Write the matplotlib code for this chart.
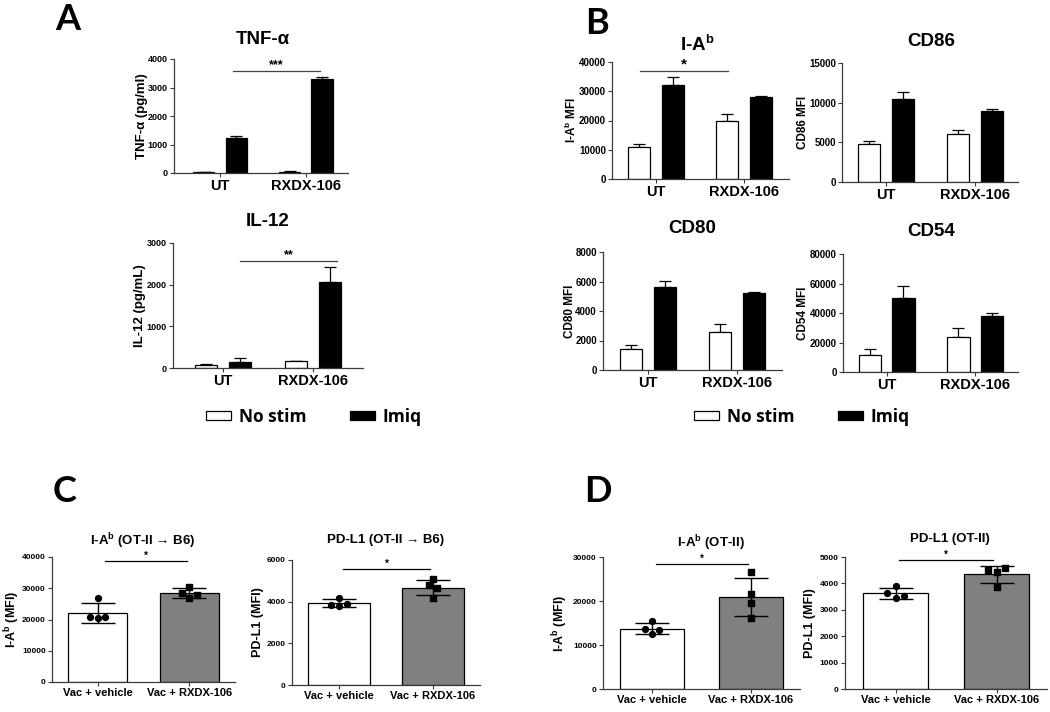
import numpy as np
import matplotlib
matplotlib.use("Agg")
import matplotlib.pyplot as plt
from matplotlib.patches import Patch

plt.rcParams['font.family'] = ['Liberation Sans', 'DejaVu Sans']
plt.rcParams['font.weight'] = 'bold'
plt.rcParams['mathtext.fontset'] = 'custom'
plt.rcParams['mathtext.rm'] = 'Liberation Sans:bold'
plt.rcParams['mathtext.it'] = 'Liberation Sans:bold'
plt.rcParams['mathtext.bf'] = 'Liberation Sans:bold'

# ---------------- data ----------------
groups = ['UT', 'RXDX-106']
legend_labels = ['No stim', 'Imiq']

tnf_nostim = [30, 50]
tnf_nostim_err = [15, 20]
tnf_imiq = [1220, 3290]
tnf_imiq_err = [70, 70]

il12_nostim = [80, 160]
il12_nostim_err = [15, 10]
il12_imiq = [150, 2060]
il12_imiq_err = [80, 370]

iab_nostim = [11000, 20000]
iab_nostim_err = [1000, 2200]
iab_imiq = [32000, 28000]
iab_imiq_err = [3000, 400]

cd86_nostim = [4800, 6100]
cd86_nostim_err = [350, 500]
cd86_imiq = [10400, 9000]
cd86_imiq_err = [950, 150]

cd80_nostim = [1400, 2600]
cd80_nostim_err = [300, 500]
cd80_imiq = [5600, 5200]
cd80_imiq_err = [450, 100]

cd54_nostim = [11500, 23500]
cd54_nostim_err = [4000, 6000]
cd54_imiq = [50000, 38000]
cd54_imiq_err = [8000, 2000]

treatments = ['Vac + vehicle', 'Vac + RXDX-106']
c_iab_vehicle = [27000, 20800, 20400, 20700]
c_iab_rxdx = [30500, 28500, 27000, 28000]
c_pdl1_vehicle = [4200, 3850, 3800, 3870]
c_pdl1_rxdx = [5070, 4800, 4650, 4180]
d_iab_vehicle = [15400, 13700, 13500, 12400]
d_iab_rxdx = [26500, 21600, 19600, 16100]
d_pdl1_vehicle = [3920, 3620, 3460, 3520]
d_pdl1_rxdx = [4500, 4600, 4420, 3880]

# ---------------- layout ----------------
W, H = 1050, 712
fig = plt.figure(figsize=(W / 100, H / 100), dpi=100)
SPINE = '#3a3a3a'


def add_ax(l, t, r, b):
    ax = fig.add_axes([l / W, 1 - b / H, (r - l) / W, (b - t) / H])
    ax._px = (l, r)
    return ax


def place_ylabel(ax, px):
    l, r = ax._px
    ax.yaxis.set_label_coords((px - l) / (r - l), 0.5)


def style(ax, ymax, step, tick_fs):
    for s in ['top', 'right']:
        ax.spines[s].set_visible(False)
    for s in ['left', 'bottom']:
        ax.spines[s].set_color(SPINE)
        ax.spines[s].set_linewidth(0.9)
    ax.set_ylim(0, ymax)
    ax.set_yticks(np.arange(0, ymax + 1, step))
    ax.tick_params(axis='both', length=3, width=0.8, color=SPINE, pad=1.5)
    ax.tick_params(axis='y', labelsize=tick_fs)
    for lab in ax.get_yticklabels():
        lab.set_fontweight('bold')


def grouped(ax, nostim, nostim_err, imiq, imiq_err, ymax, step, ylabel, yfs, xlim, ylx, tfs=7):
    x = np.arange(len(groups))
    off, w = 0.19, 0.25
    ax.bar(x - off, nostim, w, color='white', edgecolor='black', linewidth=0.9, zorder=2)
    ax.bar(x + off, imiq, w, color='black', edgecolor='black', linewidth=0.9, zorder=2)
    z = np.zeros(len(x))
    ax.errorbar(x - off, nostim, yerr=[z, nostim_err], fmt='none', ecolor='black',
                elinewidth=0.9, capsize=4, capthick=0.9, zorder=1)
    ax.errorbar(x + off, imiq, yerr=[z, imiq_err], fmt='none', ecolor='black',
                elinewidth=0.9, capsize=4, capthick=0.9, zorder=1)
    ax.set_xticks(x)
    ax.set_xticklabels(groups, fontsize=10.5, fontweight='bold')
    ax.set_xlim(*xlim)
    style(ax, ymax, step, tfs)
    ax.set_ylabel(ylabel, fontsize=yfs, fontweight='bold', va='center')
    place_ylabel(ax, ylx)


def sig(ax, x0, x1, y, stars, color='#444444', fs=9):
    ax.plot([x0, x1], [y, y], color=color, lw=0.9, zorder=3, clip_on=False)
    ax.text((x0 + x1) / 2, y, stars, ha='center', va='bottom', fontsize=fs, fontweight='bold')


def scatter_bar(ax, vehicle, rxdx, jit_v, jit_r, ymax, step, ylabel, ylx):
    data = [np.array(vehicle, float), np.array(rxdx, float)]
    means = [d.mean() for d in data]
    sds = [d.std(ddof=1) for d in data]
    ax.bar([0, 1], means, 0.65, color=['white', '#808080'], edgecolor='black',
           linewidth=0.9, zorder=2)
    ax.errorbar([0, 1], means, yerr=sds, fmt='none', ecolor='black', elinewidth=1,
                capsize=12, capthick=1, zorder=3)
    ax.scatter(0 + np.array(jit_v), data[0], marker='o', s=18, color='black', zorder=4)
    ax.scatter(1 + np.array(jit_r), data[1], marker='s', s=18, color='black', zorder=4)
    ax.set_xticks([0, 1])
    ax.set_xticklabels(treatments, fontsize=8, fontweight='bold')
    ax.set_xlim(-0.5, 1.5)
    style(ax, ymax, step, 6)
    ax.set_ylabel(ylabel, fontsize=9, fontweight='bold', va='center')
    place_ylabel(ax, ylx)


def ftext(x, y, s, **kw):
    fig.text(x / W, 1 - y / H, s, ha='center', va='center', **kw)


# ---------------- Panel A ----------------
ax = add_ax(174, 59, 348, 173)
grouped(ax, tnf_nostim, tnf_nostim_err, tnf_imiq, tnf_imiq_err, 4000, 1000,
        'TNF-α (pg/ml)', 9.5, (-0.535, 1.49), 142, tfs=6.5)
sig(ax, 0.15, 1.16, 3580, '***')
ftext(263, 40, 'TNF-α', fontsize=13.5, fontweight='bold')

ax = add_ax(173, 243, 363, 368)
grouped(ax, il12_nostim, il12_nostim_err, il12_imiq, il12_imiq_err, 3000, 1000,
        'IL-12 (pg/mL)', 9.5, (-0.56, 1.56), 140, tfs=6.5)
sig(ax, 0.19, 1.27, 2570, '**')
ftext(268, 221, 'IL-12', fontsize=13.5, fontweight='bold')

handles = [Patch(facecolor='white', edgecolor='black', linewidth=0.9),
           Patch(facecolor='black', edgecolor='black', linewidth=0.9)]
leg_kw = dict(ncol=2, frameon=False, handlelength=1.45, handleheight=0.4,
              handletextpad=0.45, columnspacing=2.5, borderpad=0,
              prop={'family': 'Open Sans', 'weight': 'bold', 'size': 12.5})
fig.legend(handles, legend_labels, loc='center', bbox_to_anchor=(314 / W, 1 - 417 / H), **leg_kw)

# ---------------- Panel B ----------------
ax = add_ax(612, 62, 789, 179)
grouped(ax, iab_nostim, iab_nostim_err, iab_imiq, iab_imiq_err, 40000, 10000,
        'I-A$^{b}$ MFI', 8.5, (-0.5, 1.51), 571)
sig(ax, -0.18, 0.82, 36900, '*', fs=11)
ftext(697, 45, 'I-A$^{b}$', fontsize=13.5, fontweight='bold')

ax = add_ax(842, 63, 1018, 182)
grouped(ax, cd86_nostim, cd86_nostim_err, cd86_imiq, cd86_imiq_err, 15000, 5000,
        'CD86 MFI', 8.5, (-0.49, 1.48), 803)
ftext(931, 42, 'CD86', fontsize=13.5, fontweight='bold')

ax = add_ax(603, 252, 782, 370)
grouped(ax, cd80_nostim, cd80_nostim_err, cd80_imiq, cd80_imiq_err, 8000, 2000,
        'CD80 MFI', 8.5, (-0.5, 1.5), 570)
ftext(692, 229, 'CD80', fontsize=13.5, fontweight='bold')

ax = add_ax(843, 254, 1018, 372)
grouped(ax, cd54_nostim, cd54_nostim_err, cd54_imiq, cd54_imiq_err, 80000, 20000,
        'CD54 MFI', 8.5, (-0.49, 1.48), 803)
ftext(931, 232, 'CD54', fontsize=13.5, fontweight='bold')

fig.legend(handles, legend_labels, loc='center', bbox_to_anchor=(802 / W, 1 - 417 / H), **leg_kw)

# ---------------- Panel C ----------------
ax = add_ax(52, 557, 235, 682)
scatter_bar(ax, c_iab_vehicle, c_iab_rxdx, [0, -0.08, 0, 0.08], [0, -0.08, 0, 0.08],
            40000, 10000, 'I-A$^{b}$ (MFI)', 12)
sig(ax, 0.08, 0.98, 38700, '*', color='black', fs=7)
ftext(143, 541, 'I-A$^{b}$ (OT-II → B6)', fontsize=9.5, fontweight='bold')

ax = add_ax(292, 560, 480, 685)
scatter_bar(ax, c_pdl1_vehicle, c_pdl1_rxdx, [0, -0.08, 0, 0.08], [0, -0.04, 0.04, 0],
            6000, 2000, 'PD-L1 (MFI)', 258)
sig(ax, 0.04, 0.97, 5570, '*', color='black', fs=7)
ftext(386, 540, 'PD-L1 (OT-II → B6)', fontsize=9.5, fontweight='bold')

# ---------------- Panel D ----------------
ax = add_ax(603, 557, 800, 689)
scatter_bar(ax, d_iab_vehicle, d_iab_rxdx, [0, -0.07, 0.07, 0], [0, 0, 0, 0],
            30000, 10000, 'I-A$^{b}$ (MFI)', 560)
sig(ax, 0.04, 0.97, 28400, '*', color='black', fs=7)
ftext(711, 543, 'I-A$^{b}$ (OT-II)', fontsize=9.5, fontweight='bold')

ax = add_ax(845, 557, 1047, 689)
scatter_bar(ax, d_pdl1_vehicle, d_pdl1_rxdx, [0, -0.08, 0, 0.08], [-0.08, 0.08, 0, 0],
            5000, 1000, 'PD-L1 (MFI)', 810)
sig(ax, 0.03, 0.97, 4890, '*', color='black', fs=7)
ftext(950, 539, 'PD-L1 (OT-II)', fontsize=9.5, fontweight='bold')

# ---------------- panel letters ----------------
for letter, (px, py) in {'A': (68, 20), 'B': (597, 24), 'C': (65, 492), 'D': (598, 492)}.items():
    ftext(px, py, letter, fontsize=26, fontweight='bold', family='Lato')

fig.savefig('out.png', dpi=100)
